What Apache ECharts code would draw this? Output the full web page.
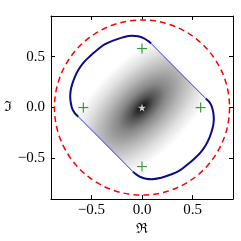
<!DOCTYPE html>
<html>
<head>
<meta charset="utf-8">
<script src="https://cdn.jsdelivr.net/npm/echarts@6/dist/echarts.min.js"></script>
<style>html,body{margin:0;padding:0;background:#fff}#c{width:241px;height:241px}</style>
</head>
<body>
<div id="c"></div>
<script>
// Boundary piece (upper-left thick curve)
var curveA = [[-0.63,-0.09],[-0.665,-0.055],[-0.69,-0.01],[-0.705,0.05],[-0.71,0.11],[-0.705,0.17],[-0.69,0.23],[-0.665,0.30],[-0.63,0.37],[-0.58,0.44],[-0.52,0.50],[-0.45,0.56],[-0.37,0.62],[-0.28,0.66],[-0.19,0.69],[-0.10,0.705],[-0.04,0.70],[0.02,0.68],[0.06,0.655],[0.09,0.63]];
// Boundary piece (lower-right thick curve)
var curveB = [[0.63,0.09],[0.665,0.055],[0.69,0.01],[0.705,-0.05],[0.71,-0.11],[0.705,-0.17],[0.69,-0.23],[0.665,-0.30],[0.63,-0.37],[0.58,-0.44],[0.52,-0.50],[0.45,-0.56],[0.37,-0.62],[0.28,-0.66],[0.19,-0.69],[0.10,-0.705],[0.04,-0.70],[-0.02,-0.68],[-0.06,-0.655],[-0.09,-0.63]];
// Thin straight chords
var chordC = [[0.09,0.63],[0.63,0.09]];
var chordD = [[-0.09,-0.63],[-0.63,-0.09]];
// Green plus markers
var plusPts = [[0,0.58],[0.58,0],[0,-0.58],[-0.58,0]];
// Star
var starPts = [[0,0]];
// Dashed circle: center x, center y, radius
var circleData = [[0,0,0.866]];
// Ticks
var xTicks = [-0.5,0,0.5];
var yTicks = [-0.5,0,0.5];

function fmt(v){ var s = Math.abs(v).toFixed(1); return (v < 0 ? '\u2212' : '') + s; }

var chart = echarts.init(document.getElementById('c'), null, {renderer:'canvas'});
var lblFont = {fontFamily:'Liberation Serif, DejaVu Serif, serif', fontSize:15, color:'#000'};
var axisCommon = {
  type:'value', min:-0.9, max:0.9,
  axisLine:{show:true, onZero:false, lineStyle:{color:'#000', width:1}},
  axisTick:{show:true, inside:true, length:4, lineStyle:{color:'#000', width:1}},
  splitLine:{show:false}
};
function mk(extra){ return Object.assign({}, JSON.parse(JSON.stringify(axisCommon)), extra); }

var option = {
  animation:false,
  backgroundColor:'#fff',
  grid:{left:51, top:16, width:182, height:184, containLabel:false},
  xAxis:[
    mk({position:'bottom', axisTick:{show:true, inside:true, length:4, customValues:xTicks, lineStyle:{color:'#000'}},
        axisLabel:Object.assign({margin:3, customValues:xTicks, formatter:fmt}, lblFont),
        name:'\u211C', nameLocation:'middle', nameGap:16,
        nameTextStyle:{fontFamily:'DejaVu Serif, serif', fontSize:14, color:'#000', verticalAlign:'top'}}),
    mk({position:'top', axisTick:{show:true, inside:true, length:4, customValues:xTicks, lineStyle:{color:'#000'}},
        axisLabel:{show:false}})
  ],
  yAxis:[
    mk({position:'left', axisTick:{show:true, inside:true, length:4, customValues:yTicks, lineStyle:{color:'#000'}},
        axisLabel:Object.assign({margin:6, customValues:yTicks, formatter:fmt}, lblFont),
        name:'\u2111', nameLocation:'middle', nameGap:38, nameRotate:0,
        nameTextStyle:{fontFamily:'DejaVu Serif, serif', fontSize:14, color:'#000'}}),
    mk({position:'right', axisTick:{show:true, inside:true, length:4, customValues:yTicks, lineStyle:{color:'#000'}},
        axisLabel:{show:false}})
  ],
  series:[
    {
      type:'custom', z:1, data:[[0,0]], silent:true, clip:true,
      renderItem:function(params, api){
        var c = api.coord([0,0]);
        var poly = curveA.concat(curveB);
        var th = Math.PI/4, ct = Math.cos(th), st = Math.sin(th);
        var sa = 2.0, sb = 0.95;
        var pts = poly.map(function(p){
          var q = api.coord(p);
          var u = q[0]-c[0], v = q[1]-c[1];
          var lx = ct*u - st*v, ly = st*u + ct*v;
          return [lx/sa, ly/sb];
        });
        return {
          type:'polygon', x:c[0], y:c[1], rotation:th, scaleX:sa, scaleY:sb,
          shape:{points:pts},
          style:{fill:{type:'radial', x:0, y:0, r:50, global:true, colorStops:[
            {offset:0, color:'#000'},{offset:0.06, color:'#2a2a2a'},{offset:0.15, color:'#555'},
            {offset:0.3, color:'#888'},{offset:0.5, color:'#b4b4b4'},{offset:0.75, color:'#e0e0e0'},{offset:1, color:'#fff'}]},
            stroke:null}
        };
      }
    },
    {type:'line', z:3, data:curveA, smooth:0.4, showSymbol:false, symbol:'none', lineStyle:{color:'#0b0b8a', width:2}},
    {type:'line', z:3, data:curveB, smooth:0.4, showSymbol:false, symbol:'none', lineStyle:{color:'#0b0b8a', width:2}},
    {type:'line', z:3, data:chordC, showSymbol:false, symbol:'none', lineStyle:{color:'#0000ff', width:0.8}},
    {type:'line', z:3, data:chordD, showSymbol:false, symbol:'none', lineStyle:{color:'#0000ff', width:0.8}},
    {
      type:'custom', z:4, data:circleData, silent:true,
      renderItem:function(params, api){
        var c = api.coord([api.value(0), api.value(1)]);
        var r = api.size([api.value(2), 0])[0];
        return {type:'circle', shape:{cx:c[0], cy:c[1], r:r},
          style:{fill:null, stroke:'#ff0000', lineWidth:1.5, lineDash:[6,4]}};
      }
    },
    {
      type:'custom', z:5, data:plusPts, silent:true,
      renderItem:function(params, api){
        var c = api.coord([api.value(0), api.value(1)]);
        var h = 5;
        return {type:'group', children:[
          {type:'line', shape:{x1:c[0]-h, y1:c[1], x2:c[0]+h, y2:c[1]}, style:{stroke:'#3a9a3a', lineWidth:1.2}},
          {type:'line', shape:{x1:c[0], y1:c[1]-h, x2:c[0], y2:c[1]+h}, style:{stroke:'#3a9a3a', lineWidth:1.2}}
        ]};
      }
    },
    {
      type:'scatter', z:6, data:starPts, silent:true,
      symbol:'path://M50,0L61,35L98,35L68,57L79,91L50,70L21,91L32,57L2,35L39,35Z',
      symbolSize:8, itemStyle:{color:'#fff'}
    }
  ]
};
chart.setOption(option);
</script>
</body>
</html>
